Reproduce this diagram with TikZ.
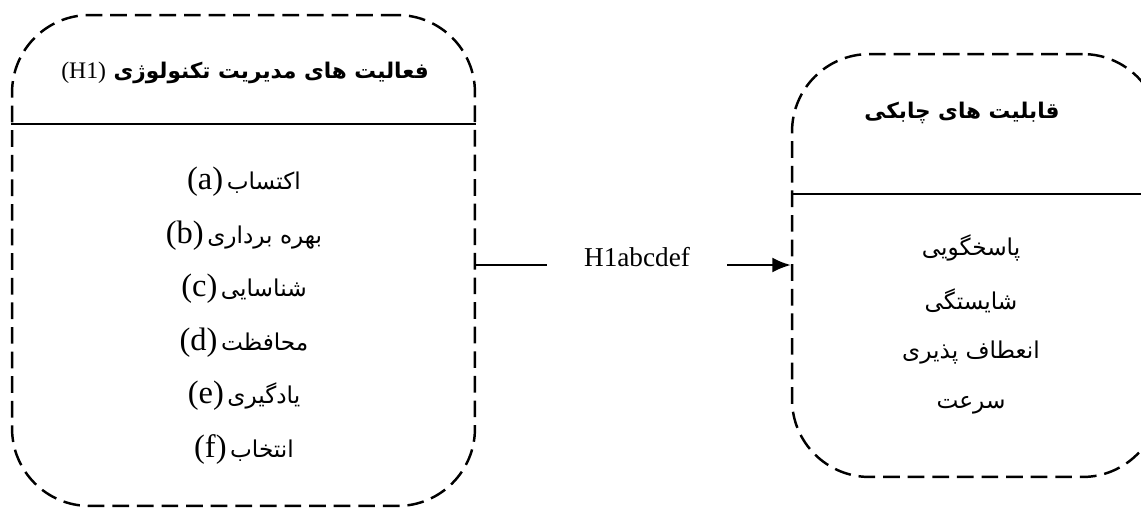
\documentclass[tikz,border=0pt]{standalone}
\usepackage{fontspec}
\setmainfont{Liberation Serif}
\newfontfamily\arabicfont[Script=Arabic]{DejaVu Sans}
\TeXXeTstate=1
\usetikzlibrary{arrows.meta}

\begin{document}
\begin{tikzpicture}[x=0.02cm,y=-0.02cm,
  box/.style={draw,line width=1.4pt,dash pattern=on 9.5pt off 4.5pt,rounded corners=1.55cm,inner sep=0pt},
  divider/.style={line width=1.1pt},
  link/.style={line width=1.2pt},
  heading/.style={font=\arabicfont\bfseries\fontsize{12.3}{15}\selectfont},
  item/.style={font=\arabicfont\fontsize{13.2}{15}\selectfont}]
\path[use as bounding box,clip] (0,0) rectangle (1141,512);

\node[box,minimum width=9.26cm,minimum height=9.82cm] (lbox) at (243.5,260.5) {};
\node[box,minimum width=7.36cm,minimum height=8.46cm] (rbox) at (976,265.5) {};
\draw[divider] ([yshift=-2.2cm]lbox.north west) -- ([yshift=-2.2cm]lbox.north east);
\draw[divider] ([yshift=-2.82cm]rbox.north west) -- ([yshift=-2.82cm]rbox.north east);

% left box
\node[heading] (ltitle) at (245,73) {\beginR فعالیت های مدیریت تکنولوژی \beginL{\rmfamily\mdseries\fontsize{13.5}{15}\selectfont(H1)}\endL\endR};
\foreach \word/\tag [count=\i] in {اکتساب/a,بهره برداری/b,شناسایی/c,محافظت/d,یادگیری/e,انتخاب/f}
  \node[item] (litem\i) at (244,128+53.6*\i) {\beginR\word\kern2pt\beginL{\rmfamily\fontsize{18.5}{20}\selectfont(\tag)}\endL\endR};

% right box
\node[heading] (rtitle) at (962,113) {\beginR قابلیت های چابکی\endR};
\foreach \word [count=\i] in {پاسخگویی,شایستگی,انعطاف پذیری,سرعت}
  \node[item] (ritem\i) at (971,195.5+52.5*\i) {\beginR\word\endR};

% connector
\node[font=\fontsize{15.5}{17}\selectfont,inner xsep=0.74cm,text height=0.7em,text depth=0.5em] (hyp) at (637,265) {H1abcdef};
\draw[link] (lbox.east |- hyp) -- (hyp.west);
\draw[link,-{Latex[length=10.5pt,width=8.5pt]}] (hyp.east) -- (rbox.west |- hyp);
\end{tikzpicture}
\end{document}
